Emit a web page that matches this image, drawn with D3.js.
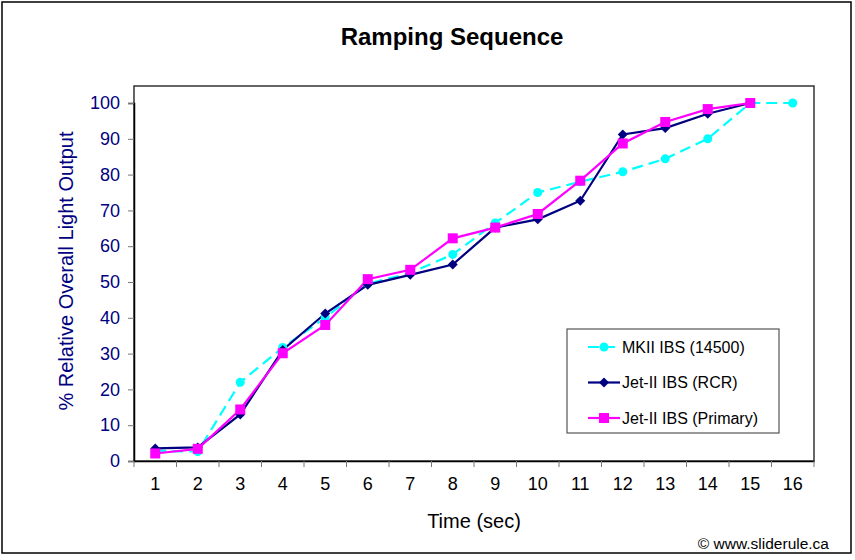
<!DOCTYPE html>
<html><head><meta charset="utf-8">
<script src="https://cdn.jsdelivr.net/npm/d3@7/dist/d3.min.js"></script>
<style>body{margin:0;background:#fff;font-family:"Liberation Sans",Arial,sans-serif;}</style>
</head><body><svg id="c" width="855" height="560"></svg>
<script>
const categories = [1,2,3,4,5,6,7,8,9,10,11,12,13,14,15,16];
const yTicks = [0,10,20,30,40,50,60,70,80,90,100];
const mkii = [2.9,2.6,22.0,31.7,40.0,49.5,52.5,57.7,66.5,75.0,78.0,80.8,84.4,90.0,100,100];
const rcr = [3.5,3.8,13.0,31.0,41.2,49.2,52.0,54.9,65.2,67.5,72.7,91.2,93.0,97.0,100];
const primary = [2.1,3.4,14.4,30.1,38.0,50.8,53.4,62.2,65.2,69.0,78.3,88.7,94.7,98.3,100];
const seriesNames = ["MKII IBS (14500)","Jet-II IBS (RCR)","Jet-II IBS (Primary)"];

const svg = d3.select("#c");
const L=134, R=814, T=86, B=461;
// outer border
svg.append("rect").attr("x",2).attr("y",2).attr("width",849).attr("height",551)
  .attr("fill","#fff").attr("stroke","#000").attr("stroke-width",1.5);

const x = d3.scaleBand().domain(categories).range([L,R]);
const y = d3.scaleLinear().domain([0,100]).range([B,103]);

// plot frame
svg.append("rect").attr("x",L).attr("y",T).attr("width",R-L).attr("height",B-T)
  .attr("fill","#fff").attr("stroke","#333").attr("stroke-width",1.5);

// y axis
const ya = svg.append("g").attr("transform",`translate(${L},0)`)
  .call(d3.axisLeft(y).tickValues(yTicks).tickSize(6).tickPadding(8));
ya.select(".domain").attr("stroke","#000").attr("stroke-width",1.5);
ya.selectAll(".tick line").attr("stroke","#777");
ya.selectAll("text").attr("fill","#000080").attr("font-size",18).attr("font-family","Liberation Sans, Arial, sans-serif");

// x axis
const xa = svg.append("g").attr("transform",`translate(0,${B})`)
  .call(d3.axisBottom(x).tickSize(0).tickPadding(16));
xa.select(".domain").attr("stroke","#000").attr("stroke-width",1.5);
xa.selectAll("text").attr("fill","#000").attr("font-size",18).attr("font-family","Liberation Sans, Arial, sans-serif");
// category boundary ticks
const bounds = categories.map(c=>x(c)).concat([x(categories[categories.length-1])+x.bandwidth()]);
svg.append("g").selectAll("line").data(bounds).join("line")
  .attr("x1",d=>d).attr("x2",d=>d).attr("y1",B).attr("y2",B+6).attr("stroke","#777");

// titles
svg.append("text").attr("x",452).attr("y",45).attr("text-anchor","middle")
  .attr("font-size",24).attr("font-weight","bold").text("Ramping Sequence");
svg.append("text").attr("x",474).attr("y",528).attr("text-anchor","middle")
  .attr("font-size",20).text("Time (sec)");
svg.append("text").attr("transform","translate(73,271) rotate(-90)").attr("text-anchor","middle")
  .attr("font-size",20).attr("fill","#000080").text("% Relative Overall Light Output");
svg.append("text").attr("x",829).attr("y",549).attr("text-anchor","end")
  .attr("font-size",15.5).text("© www.sliderule.ca");

const cx = i => x(categories[i]) + x.bandwidth()/2;
const line = d3.line().x((d,i)=>cx(i)).y(d=>y(d));

const series = [
  {data:mkii, color:"#00FFFF", dash:"11,6", marker:"circle"},
  {data:rcr, color:"#000080", dash:null, marker:"diamond"},
  {data:primary, color:"#FF00FF", dash:null, marker:"square"}
];
function drawMarker(g, type, color, px, py){
  if(type==="circle") g.append("circle").attr("cx",px).attr("cy",py).attr("r",4.5).attr("fill",color);
  else if(type==="diamond") g.append("path").attr("d",`M${px},${py-5}L${px+5},${py}L${px},${py+5}L${px-5},${py}Z`).attr("fill",color);
  else g.append("rect").attr("x",px-5).attr("y",py-5).attr("width",10).attr("height",10).attr("fill",color);
}
series.forEach(s=>{
  svg.append("path").datum(s.data).attr("d",line).attr("fill","none")
    .attr("stroke",s.color).attr("stroke-width",2.2).attr("stroke-dasharray",s.dash);
});
series.forEach(s=>{
  const g = svg.append("g");
  s.data.forEach((v,i)=>drawMarker(g,s.marker,s.color,cx(i),y(v)));
});

// legend
const lg = svg.append("g");
lg.append("rect").attr("x",567).attr("y",329).attr("width",212).attr("height",104)
  .attr("fill","#fff").attr("stroke","#555").attr("stroke-width",1.2);
series.forEach((s,i)=>{
  const ly = 347 + i*35.5;
  lg.append("line").attr("x1",588).attr("x2",620).attr("y1",ly).attr("y2",ly)
    .attr("stroke",s.color).attr("stroke-width",2.2).attr("stroke-dasharray",s.dash?"11,5":null);
  drawMarker(lg,s.marker,s.color,604,ly);
  lg.append("text").attr("x",622).attr("y",ly+5.5).attr("font-size",16).text(seriesNames[i]);
});
</script></body></html>
